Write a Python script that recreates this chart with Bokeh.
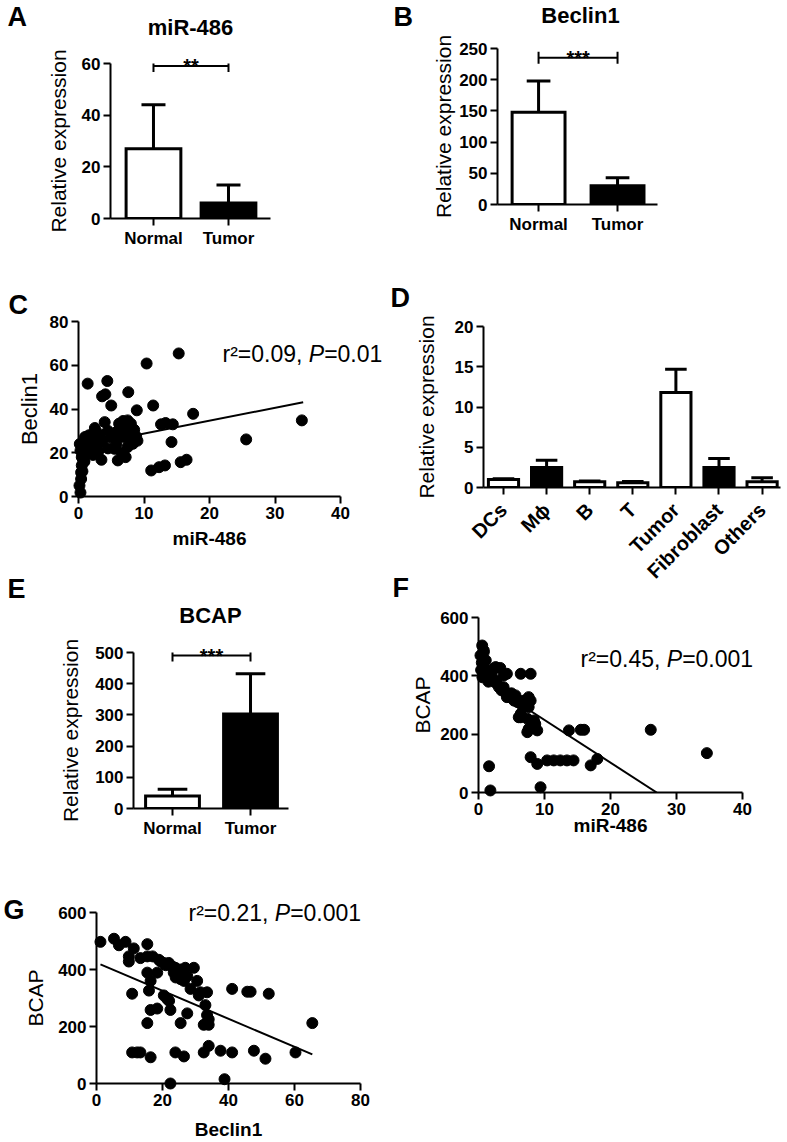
import math
from bokeh.plotting import figure
from bokeh.models import Range1d, FixedTicker
from bokeh.layouts import column, row
from bokeh.embed import file_html
from bokeh.resources import INLINE
from bokeh.core.properties import value

FONT = "Liberation Sans"

# ---------------- data ----------------
# A: miR-486
a_cats = ["Normal", "Tumor"]
a_mean = [27, 6]
a_sd = [17, 7]
a_fill = ["white", "black"]
a_yticks = [0, 20, 40, 60]
a_sig = "**"
a_sig_y = 59

# B: Beclin1
b_cats = ["Normal", "Tumor"]
b_mean = [148, 30]
b_sd = [50, 13]
b_fill = ["white", "black"]
b_yticks = [0, 50, 100, 150, 200, 250]
b_sig = "***"
b_sig_y = 235

# C: Beclin1 vs miR-486
c_x = [15.3, 10.4, 1.4, 4.4, 3.6, 4.1, 5.0, 7.6, 8.9, 11.4,
       17.5, 12.6, 13.3, 14.4, 14.2, 25.6, 34.1, 15.6, 16.5, 11.1,
       12.3, 13.2, 2.5, 4.0, 6.2, 6.8, 7.5, 8.0, 6.5, 7.3,
       6.3, 7.0, 8.3, 8.8, 5.5, 7.5, 8.3, 3.5, 6.0, 1.0,
       1.7, 2.5, 0.7, 2.0, 3.0, 3.7, 0.5, 1.2, 0.5, 0.3,
       0.15, 0.4, 0.6, 0.9, 1.5, 2.2, 3.0, 4.5, 5.0, 5.8,
       6.6, 7.2, 4.5, 3.2, 1.8, 0.3, 0.2, 1.1, 2.8, 6.0,
       8.5, 9.0, 0.8, 0.4, 1.6]
c_y = [65.4, 60.8, 51.6, 52.8, 45.8, 46.7, 41.6, 47.7, 39.4, 41.6,
       37.8, 33.0, 33.6, 33.0, 24.9, 26.1, 34.8, 15.7, 16.8, 11.9,
       13.4, 14.2, 31.3, 34.0, 33.3, 34.5, 34.8, 33.3, 31.0, 31.0,
       27.9, 27.2, 27.2, 27.5, 21.8, 22.6, 24.1, 16.8, 16.5, 27.2,
       26.4, 25.6, 22.6, 22.6, 24.1, 25.6, 18.0, 19.5, 14.2, 1.8,
       5.0, 8.0, 11.5, 16.0, 21.0, 19.0, 20.5, 22.0, 27.0, 24.0,
       20.0, 18.0, 30.0, 28.5, 24.0, 21.0, 24.0, 23.5, 22.0, 30.0,
       30.5, 25.5, 16.0, 11.0, 28.0]
c_fit_x = [0.2, 34.3]
c_fit_y = [23.0, 43.1]
c_r2, c_p = "0.09", "0.01"
c_xticks = [0, 10, 20, 30, 40]
c_yticks = [0, 20, 40, 60, 80]

# D: cell types
d_cats = ["DCs", "M\u03d5", "B", "T", "Tumor", "Fibroblast", "Others"]
d_mean = [1.0, 2.5, 0.7, 0.6, 11.8, 2.5, 0.7]
d_sd = [0.1, 0.9, 0.1, 0.15, 2.9, 1.1, 0.5]
d_fill = ["white", "black", "white", "white", "white", "black", "white"]
d_yticks = [0, 5, 10, 15, 20]

# E: BCAP
e_cats = ["Normal", "Tumor"]
e_mean = [40, 303]
e_sd = [22, 129]
e_fill = ["white", "black"]
e_yticks = [0, 100, 200, 300, 400, 500]
e_sig = "***"
e_sig_y = 490

# F: BCAP vs miR-486
f_x = [0.56, 0.8, 0.8, 1.1, 0.8, 1.3, 0.4, 0.5, 0.3, 0.6,
       0.9, 2.3, 3.3, 3.8, 2.6, 4.3, 2.6, 3.1, 1.8, 2.8,
       3.8, 4.1, 4.3, 4.8, 5.4, 5.6, 5.9, 6.1, 6.4, 6.9,
       6.9, 7.4, 7.6, 7.9, 7.6, 6.4, 6.1, 6.4, 7.4, 7.4,
       7.6, 8.4, 8.4, 8.9, 8.6, 6.4, 7.9, 1.6, 1.8, 7.9,
       8.9, 9.4, 10.4, 11.4, 12.4, 13.4, 14.4, 13.7, 15.5, 16.0,
       17.0, 18.0, 26.1, 34.6, 1.5, 2.0, 5.0, 3.5]
f_y = [504, 487, 481, 453, 430, 407, 420, 445, 470, 395,
       400, 424, 427, 401, 430, 407, 384, 361, 395, 373,
       361, 344, 327, 327, 315, 333, 310, 315, 304, 304,
       315, 315, 293, 315, 327, 270, 258, 258, 253, 207,
       218, 235, 247, 213, 235, 407, 407, 90, 7, 121,
       98, 18, 110, 110, 110, 110, 110, 213, 215, 215,
       93, 115, 215, 135, 380, 410, 340, 350]
f_fit_x = [0.2, 27.0]
f_fit_y = [392, 0]
f_r2, f_p = "0.45", "0.001"
f_xticks = [0, 10, 20, 30, 40]
f_yticks = [0, 200, 400, 600]

# G: BCAP vs Beclin1
g_x = [1.2, 5.3, 6.8, 8.8, 11.3, 9.8, 9.8, 13.3, 15.4, 15.4,
       17.0, 18.9, 20.4, 21.9, 22.9, 23.9, 25.5, 26.9, 29.5, 23.4,
       25.5, 27.5, 26.0, 30.5, 28.5, 31.0, 31.5, 33.5, 33.0, 33.5,
       34.0, 32.5, 15.4, 16.4, 15.9, 10.8, 18.4, 20.4, 21.4, 22.4,
       16.4, 18.4, 15.4, 25.5, 27.5, 10.8, 12.3, 13.3, 16.4, 23.9,
       26.5, 32.5, 34.0, 37.6, 41.1, 41.1, 45.7, 46.7, 52.2, 47.7,
       51.2, 60.3, 65.4, 22.4, 38.8, 24.5, 25.0, 21.0, 19.5, 24.0,
       26.5, 22.0, 34.0]
g_y = [497, 508, 485, 497, 474, 446, 428, 440, 489, 446,
       446, 434, 423, 423, 411, 406, 400, 406, 406, 389,
       366, 377, 383, 360, 332, 309, 320, 320, 275, 240,
       206, 206, 389, 360, 326, 315, 389, 309, 297, 258,
       258, 263, 212, 212, 246, 109, 109, 109, 92, 109,
       95, 109, 132, 115, 109, 332, 322, 322, 315, 115,
       87, 109, 212, 0, 15, 395, 380, 415, 428, 372,
       360, 290, 225]
g_fit_x = [1.2, 65.4]
g_fit_y = [418, 102]
g_r2, g_p = "0.21", "0.001"
g_xticks = [0, 20, 40, 60, 80]
g_yticks = [0, 200, 400, 600]


# ---------------- helpers ----------------
def make_panel(origin, size, frame, xr, yr):
    ox, oy = origin
    w, h = size
    L, T, R, B = frame
    p = figure(width=w, height=h, x_range=Range1d(*xr), y_range=Range1d(*yr),
               output_backend="svg", toolbar_location=None, title=None,
               min_border_left=L - ox, min_border_right=ox + w - R,
               min_border_top=T - oy, min_border_bottom=oy + h - B)
    try:
        p.frame_align = False
    except Exception:
        pass
    p.outline_line_color = None
    p.xgrid.visible = False
    p.ygrid.visible = False
    p.background_fill_color = "white"
    p.border_fill_color = "white"
    for ax in (p.xaxis[0], p.yaxis[0]):
        ax.axis_line_width = 2
        ax.axis_line_color = "black"
        ax.major_tick_line_width = 2
        ax.major_tick_line_color = "black"
        ax.major_tick_out = 7
        ax.major_tick_in = 0
        ax.minor_tick_line_color = None
        ax.major_label_text_font = FONT
        ax.major_label_text_font_style = "bold"
        ax.major_label_text_font_size = "17px"
        ax.major_label_text_color = "black"
        ax.major_label_standoff = 3
        ax.axis_label_text_font = FONT
        ax.axis_label_text_color = "black"
        ax.axis_label_text_font_style = "normal"

    def to_data(px, py):
        dx = xr[0] + (px - L) / (R - L) * (xr[1] - xr[0])
        dy = yr[0] + (B - py) / (B - T) * (yr[1] - yr[0])
        return dx, dy
    return p, to_data


def put_text(p, x, y, text, size, style="normal", align="left",
             baseline="middle", x_offset=0, y_offset=0):
    r = p.text(x=[x], y=[y], text=[text], text_font=value(FONT),
               text_font_size=value(f"{size}px"), text_font_style=value(style),
               text_align=value(align), text_baseline=value(baseline),
               text_color="black", x_offset=x_offset, y_offset=y_offset)
    r.level = "overlay"
    return r


def add_text(p, to_data, px, py, text, size, **kw):
    x, y = to_data(px, py)
    return put_text(p, x, y, text, size, **kw)


def ylabel(p, text, standoff, size=21):
    p.yaxis[0].axis_label = text
    p.yaxis[0].axis_label_text_font_size = f"{size}px"
    p.yaxis[0].axis_label_standoff = standoff


def xlabel(p, text, standoff, size=19):
    p.xaxis[0].axis_label = text
    p.xaxis[0].axis_label_text_font_size = f"{size}px"
    p.xaxis[0].axis_label_text_font_style = "bold"
    p.xaxis[0].axis_label_standoff = standoff


def bars(p, cats, means, sds, fills, yticks, bar_w, cap_half, cat_size=17):
    idx = list(range(len(cats)))
    tops = [m + s for m, s in zip(means, sds)]
    p.segment(x0=idx, y0=means, x1=idx, y1=tops, line_color="black", line_width=3)
    p.segment(x0=[i - cap_half for i in idx], y0=tops, x1=[i + cap_half for i in idx],
              y1=tops, line_color="black", line_width=3)
    p.vbar(x=idx, top=means, bottom=0, width=bar_w, fill_color=fills,
           line_color="black", line_width=3, line_join="miter")
    p.xaxis[0].ticker = FixedTicker(ticks=idx)
    p.xaxis[0].major_label_overrides = {i: c for i, c in zip(idx, cats)}
    p.xaxis[0].major_label_text_font_size = f"{cat_size}px"
    p.yaxis[0].ticker = FixedTicker(ticks=yticks)


def bracket(p, y, half_h, stars, star_size=20):
    p.segment(x0=[0], y0=[y], x1=[1], y1=[y], line_color="black", line_width=2)
    p.segment(x0=[0, 1], y0=[y - half_h] * 2, x1=[0, 1], y1=[y + half_h] * 2,
              line_color="black", line_width=2)
    put_text(p, 0.5, y, stars, star_size, style="bold", align="center",
             baseline="alphabetic")


def scatter(p, xs, ys, fx, fy, xticks, yticks):
    p.line(x=fx, y=fy, line_color="black", line_width=2)
    r = p.scatter(x=xs, y=ys, size=11, marker="circle", fill_color="black",
                  line_color="black")
    r.level = "overlay"
    p.xaxis[0].ticker = FixedTicker(ticks=xticks)
    p.yaxis[0].ticker = FixedTicker(ticks=yticks)


W_EM = {"r": .333, "\u00b2": .333, "=": .584, ".": .278, ",": .278, " ": .278}


def stat(p, to_data, px, py, r2, pv, size=23):
    first = f"r\u00b2={r2}, "
    w1 = sum(W_EM.get(ch, .556) for ch in first) * size
    wp = .667 * size
    add_text(p, to_data, px, py, first, size)
    add_text(p, to_data, px, py, "P", size, style="italic", x_offset=w1)
    add_text(p, to_data, px, py, f"={pv}", size, x_offset=w1 + wp)


# ---------------- panels ----------------
LETTER = 27
TITLE = 22

# A
pA, tA = make_panel((0, 0), (388, 250), (110, 63, 270, 219), (-0.573, 1.56), (0, 60))
bars(pA, a_cats, a_mean, a_sd, a_fill, a_yticks, 0.73, 0.16)
bracket(pA, a_sig_y, 2.3, a_sig)
ylabel(pA, "Relative expression", 9)
add_text(pA, tA, 7, 16, "A", LETTER, style="bold")
add_text(pA, tA, 190, 27, "miR-486", TITLE, style="bold", align="center")

# B
pB, tB = make_panel((388, 0), (399, 250), (497, 48, 657, 204), (-0.52, 1.506), (0, 250))
bars(pB, b_cats, b_mean, b_sd, b_fill, b_yticks, 0.67, 0.15)
bracket(pB, b_sig_y, 9.6, b_sig)
ylabel(pB, "Relative expression", 1)
add_text(pB, tB, 393, 16, "B", LETTER, style="bold")
add_text(pB, tB, 580, 15, "Beclin1", TITLE, style="bold", align="center")

# C
pC, tC = make_panel((0, 250), (388, 305), (78, 321, 340, 496), (0, 40), (0, 80))
scatter(pC, c_x, c_y, c_fit_x, c_fit_y, c_xticks, c_yticks)
ylabel(pC, "Beclin1", 5, size=22)
xlabel(pC, "miR-486", 6)
add_text(pC, tC, 8, 304, "C", LETTER, style="bold")
stat(pC, tC, 222, 353, c_r2, c_p)

# D (its canvas also carries the letter of panel F, which sits left of D's axis)
pD, tD = make_panel((388, 250), (399, 357), (483, 326, 780, 487), (-0.464, 6.427), (0, 20))
bars(pD, d_cats, d_mean, d_sd, d_fill, d_yticks, 0.70, 0.25, cat_size=20)
pD.xaxis[0].major_label_orientation = math.pi / 4
pD.xaxis[0].major_label_standoff = 12
ylabel(pD, "Relative expression", 14)
add_text(pD, tD, 390, 297, "D", LETTER, style="bold")
add_text(pD, tD, 392, 587, "F", LETTER, style="bold")

# E
pE, tE = make_panel((0, 555), (388, 293), (133, 652, 288, 808), (-0.5, 1.487), (0, 500))
bars(pE, e_cats, e_mean, e_sd, e_fill, e_yticks, 0.69, 0.19)
bracket(pE, e_sig_y, 19, e_sig)
ylabel(pE, "Relative expression", 10)
add_text(pE, tE, 7, 588, "E", LETTER, style="bold")
add_text(pE, tE, 210, 615, "BCAP", TITLE, style="bold", align="center")

# F
pF, tF = make_panel((388, 607), (399, 243), (478, 617, 742, 792), (0, 40), (0, 600))
scatter(pF, f_x, f_y, f_fit_x, f_fit_y, f_xticks, f_yticks)
ylabel(pF, "BCAP", 3)
xlabel(pF, "miR-486", -3)
stat(pF, tF, 580, 658, f_r2, f_p)

# G
pG, tG = make_panel((0, 848), (388, 294), (96, 912, 360, 1087), (0, 80), (0, 600))
scatter(pG, g_x, g_y, g_fit_x, g_fit_y, g_xticks, g_yticks)
ylabel(pG, "BCAP", 8)
xlabel(pG, "Beclin1", 10)
add_text(pG, tG, 3, 909, "G", LETTER, style="bold")
stat(pG, tG, 188, 912, g_r2, g_p)

layout = row(column(pA, pC, pE, pG), column(pB, pD, pF))
open("out.html", "w").write(file_html(layout, INLINE))
